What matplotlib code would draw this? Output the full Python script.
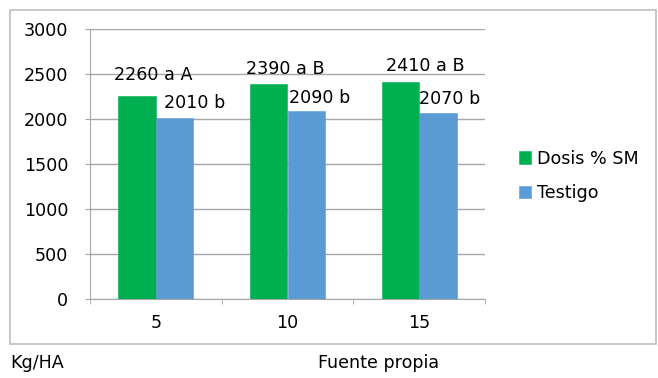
import matplotlib
matplotlib.use("Agg")
import matplotlib.pyplot as plt
from matplotlib.patches import Rectangle

categories = ["5", "10", "15"]
dosis = [2260, 2390, 2410]
testigo = [2010, 2090, 2070]
dosis_labels = ["2260 a A", "2390 a B", "2410 a B"]
testigo_labels = ["2010 b", "2090 b", "2070 b"]
yticks = [0, 500, 1000, 1500, 2000, 2500, 3000]

GREEN = "#00B050"
BLUE = "#5B9BD5"
GRID = "#A6A6A6"
FS = 12.6

W, H = 658, 378
fig = plt.figure(figsize=(W / 100, H / 100), dpi=100)
plt.rcParams["font.family"] = ["DejaVu Sans"]

# outer chart frame
fig.patches.append(Rectangle((10 / W, 1 - 344 / H), 646 / W, 334 / H,
                             transform=fig.transFigure, fill=False,
                             edgecolor="#BFBFBF", linewidth=1.2))

ax = fig.add_axes([90 / W, 1 - 299 / H, 395 / W, 270 / H])
x = list(range(len(categories)))
bw = 0.285
b1 = ax.bar([i - bw / 2 for i in x], dosis, width=bw, color=GREEN,
            edgecolor=GREEN, linewidth=0.4, label="Dosis % SM", zorder=3)
b2 = ax.bar([i + bw / 2 for i in x], testigo, width=bw, color=BLUE,
            edgecolor=BLUE, linewidth=0.4, label="Testigo", zorder=3)

ax.set_xlim(-0.5, len(categories) - 0.5)
ax.set_ylim(0, 3000)
ax.set_yticks(yticks)
ax.set_yticklabels([str(v) for v in yticks], fontsize=FS)
ax.yaxis.grid(True, color=GRID, linewidth=1.0, zorder=0)
ax.set_xticks(x)
ax.set_xticklabels(categories, fontsize=FS)
ax.tick_params(axis="x", length=0, pad=11)
ax.tick_params(axis="y", length=3.6, color=GRID, pad=12)
# category separator ticks
ax.set_xticks([i + 0.5 for i in range(-1, len(categories))], minor=True)
ax.tick_params(axis="x", which="minor", length=3.6, color=GRID, direction="out")

for s in ["top", "right"]:
    ax.spines[s].set_visible(False)
ax.spines["left"].set_color(GRID)
ax.spines["bottom"].set_color(GRID)

# value labels
d_off = [(16, 21), (17, 15), (25, 16)]
t_off = [(20, 15), (13, 13), (12, 14)]
for rect, lab, (dx, dy) in zip(b1, dosis_labels, d_off):
    ax.annotate(lab, (rect.get_x() + rect.get_width() / 2, rect.get_height()),
                xytext=(dx, dy), textcoords="offset pixels",
                ha="center", va="center", fontsize=FS)
for rect, lab, (dx, dy) in zip(b2, testigo_labels, t_off):
    ax.annotate(lab, (rect.get_x() + rect.get_width() / 2, rect.get_height()),
                xytext=(dx, dy), textcoords="offset pixels",
                ha="center", va="center", fontsize=FS)

fig.legend(handles=[b1, b2], loc="center left",
           bbox_to_anchor=(503 / W, 1 - 176 / H), frameon=False,
           fontsize=FS, handlelength=0.7, handleheight=0.7,
           handletextpad=0.35, labelspacing=0.95)

fig.text(10 / W, 1 - 363 / H, "Kg/HA", fontsize=FS, va="center", ha="left")
fig.text(318 / W, 1 - 363 / H, "Fuente propia", fontsize=FS, va="center", ha="left")

fig.savefig("out.png", dpi=100)
